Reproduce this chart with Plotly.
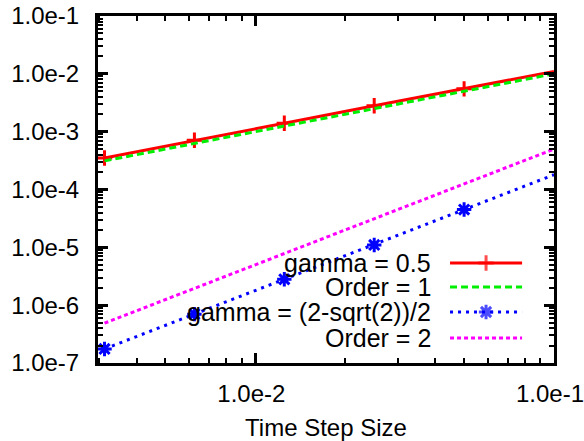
import plotly.graph_objects as go

# ---- data ----
h = [0.003125, 0.00625, 0.0125, 0.025, 0.05, 0.1]
err_gamma_half = [3.5e-4, 7.1e-4, 1.4e-3, 2.8e-3, 5.5e-3, 1.1e-2]
order1 = [3.125e-4, 6.25e-4, 1.25e-3, 2.5e-3, 5.0e-3, 1.0e-2]
err_gamma_opt = [1.75e-7, 7.0e-7, 2.8e-6, 1.1e-5, 4.5e-5, 1.8e-4]
order2 = [4.88e-7, 1.95e-6, 7.81e-6, 3.125e-5, 1.25e-4, 5.0e-4]

names = ["gamma = 0.5", "Order = 1", "gamma = (2-sqrt(2))/2", "Order = 2"]
y_tickvals = [1e-7, 1e-6, 1e-5, 1e-4, 1e-3, 1e-2, 1e-1]
y_ticktext = ["1.0e-7", "1.0e-6", "1.0e-5", "1.0e-4", "1.0e-3", "1.0e-2", "1.0e-1"]
x_tickvals = [1e-2, 1e-1]
x_ticktext = ["1.0e-2", "1.0e-1"]

FONT = "Liberation Sans, Arial, sans-serif"
FS = 24
FS_LEG = 25

styles = [
    dict(color="#ff0000", dash="solid", symbol="cross-thin-open", msize=11, mw=3),
    dict(color="#00ee00", dash="7px,4px", symbol=None, msize=0, mw=3),
    dict(color="#0000ff", dash="3px,5px", symbol="asterisk-open", msize=12, mw=3),
    dict(color="#ff00ff", dash="4px,3px", symbol=None, msize=0, mw=3),
]
series = [err_gamma_half, order1, err_gamma_opt, order2]

fig = go.Figure()
for name, ys, st in zip(names, series, styles):
    mode = "lines+markers" if st["symbol"] else "lines"
    fig.add_trace(go.Scatter(
        x=h, y=ys, mode=mode, name=name, showlegend=False,
        line=dict(color=st["color"], width=3, dash=st["dash"]),
        marker=dict(symbol=st["symbol"] or "circle", size=st["msize"],
                    color=st["color"], line=dict(color=st["color"], width=st["mw"])),
        cliponaxis=False,
    ))

# ---- custom legend (text left of sample, as in gnuplot) ----
leg_rows = [0.288, 0.219, 0.147, 0.072]
x_text = 0.7346
x0, xm, x1 = 0.772, 0.851, 0.930
for name, st, yr in zip(names, styles, leg_rows):
    fig.add_trace(go.Scatter(
        x=[x0, xm, x1], y=[yr, yr, yr], xaxis="x2", yaxis="y2",
        mode="lines+markers" if st["symbol"] else "lines", showlegend=False,
        line=dict(color=st["color"], width=3, dash=st["dash"]),
        marker=dict(symbol=st["symbol"] or "circle", size=[0, st["msize"], 0],
                    color=st["color"], line=dict(color=st["color"], width=st["mw"])),
        hoverinfo="skip", cliponaxis=False,
    ))
    fig.add_annotation(x=x_text, y=yr, xref="paper", yref="paper", text=name,
                       showarrow=False, xanchor="right", yanchor="middle",
                       font=dict(family=FONT, size=FS_LEG, color="black"))

minor_vals = [m * 10.0 ** e for e in range(-8, 0) for m in range(2, 10)]

axis_common = dict(
    showgrid=False, zeroline=False, showline=True, linecolor="black", linewidth=3,
    mirror="ticks", ticks="inside", ticklen=10, tickwidth=3, tickcolor="black",
    tickfont=dict(family=FONT, size=FS, color="black"), automargin=False,
    ticklabeloverflow="allow",
    minor=dict(ticks="inside", ticklen=5, tickwidth=2, tickcolor="black",
               tickvals=minor_vals, showgrid=False),
)

fig.update_layout(
    width=584, height=441,
    margin=dict(l=98, r=30, t=16, b=78),
    paper_bgcolor="white", plot_bgcolor="white",
    font=dict(family=FONT, size=FS, color="black"),
    xaxis=dict(type="log", range=[-2.527, -1.0], tickvals=x_tickvals,
               ticktext=x_ticktext, ticklabelstandoff=7, ticklabelshift=-4,
               title=dict(text="Time Step Size", font=dict(family=FONT, size=FS), standoff=14),
               **axis_common),
    yaxis=dict(type="log", range=[-7, -1], tickvals=y_tickvals, ticktext=y_ticktext,
               ticklabelstandoff=11, **axis_common),
    xaxis2=dict(overlaying="x", range=[0, 1], visible=False, fixedrange=True),
    yaxis2=dict(overlaying="y", range=[0, 1], visible=False, fixedrange=True),
    showlegend=False,
)

fig.write_html("out.html")
